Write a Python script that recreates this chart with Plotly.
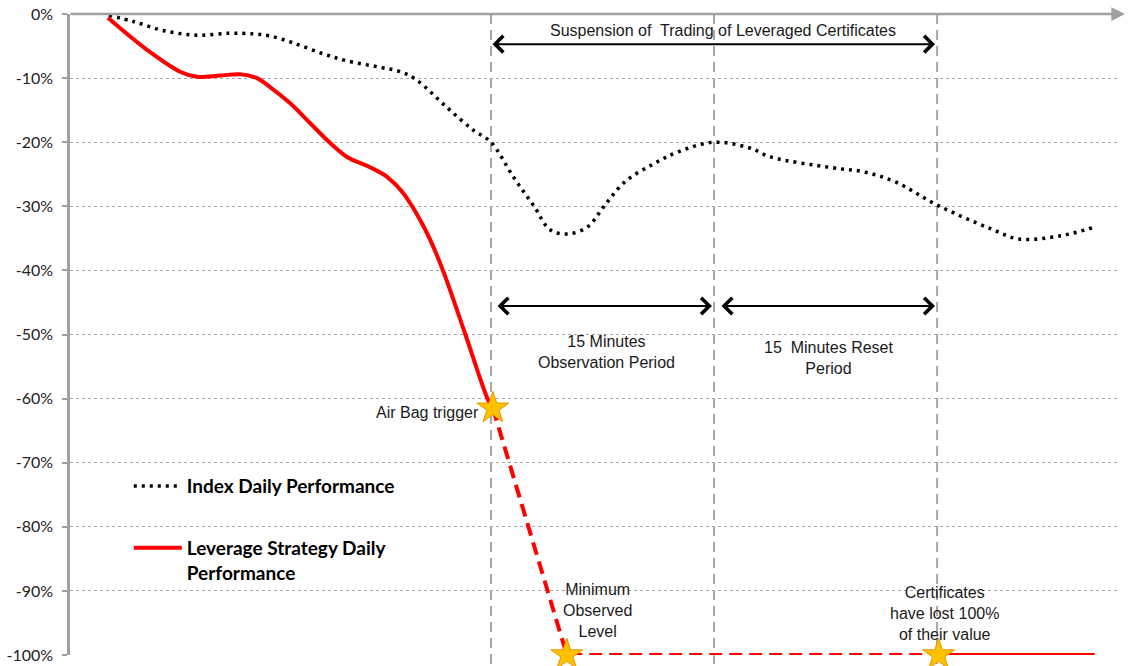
import plotly.graph_objects as go

# ---- data (time in minutes, performance in %) ----
index_t = [4.3, 6.0, 8.0, 10.2, 12.4, 14.0, 15.1, 16.7, 18.7, 20.3, 22.5, 23.9, 25.0, 27.0, 28.8,
           30.0, 31.5, 32.9, 34.0, 35.2, 36.5, 37.6, 39.0, 41.0, 42.6, 45.0, 47.4, 48.8, 53.0,
           55.0, 57.2, 60.0, 63.6, 65.5, 68.3, 70.5]
index_perf = [-0.2, -1.2, -2.6, -3.3, -3.0, -3.1, -3.4, -4.5, -6.2, -7.3, -8.3, -9.0, -10.3, -14.5, -18.1,
              -20.0, -25.4, -30.0, -33.7, -34.3, -33.2, -30.0, -26.2, -23.3, -21.5, -20.0, -20.9, -22.3, -24.0,
              -24.6, -26.2, -29.8, -33.5, -35.1, -34.6, -33.3]

lev_t = [4.24, 6.87, 9.09, 10.23, 11.78, 13.12, 14.26, 15.14, 16.48, 17.83, 19.17, 20.32, 21.86,
         23.01, 24.08, 25.70, 26.77, 28.25, 29.80, 30.13]
lev_perf = [-0.6, -5.6, -9.0, -9.8, -9.6, -9.4, -10.0, -11.4, -13.9, -17.0, -20.1, -22.3, -23.9,
            -25.4, -27.9, -34.2, -40.0, -49.8, -60.2, -61.5]

susp_t = [30.13, 35.1, 60.1]
susp_perf = [-61.5, -100.0, -100.0]

post_t = [60.1, 70.6]
post_perf = [-100.0, -100.0]

event_t = [30.13, 35.1, 60.1]
event_perf = [-61.5, -100.0, -100.0]

period_bounds = [30, 45, 60]

y_ticks = [0, -10, -20, -30, -40, -50, -60, -70, -80, -90, -100]
y_tick_labels = ["0%", "-10%", "-20%", "-30%", "-40%", "-50%", "-60%", "-70%", "-80%", "-90%", "-100%"]

X_RANGE = [1.69, 72.3]

fig = go.Figure()

fig.add_trace(go.Scatter(
    x=index_t, y=index_perf, mode="lines", name="<b>Index Daily Performance</b>",
    line=dict(color="black", width=3.5, dash="3px,5px", shape="spline", smoothing=1.0),
    legendgroup="a", cliponaxis=False,
))
fig.add_trace(go.Scatter(
    x=lev_t, y=lev_perf, mode="lines", name="<b>Leverage Strategy Daily<br>Performance</b>",
    line=dict(color="#FF0000", width=4, shape="spline", smoothing=1.0),
    legendgroup="b", cliponaxis=False,
))
fig.add_trace(go.Scatter(
    x=susp_t, y=susp_perf, mode="lines", showlegend=False,
    line=dict(color="#FF0000", width=4, dash="13px,7px"), cliponaxis=False,
))
fig.add_trace(go.Scatter(
    x=post_t, y=post_perf, mode="lines", showlegend=False,
    line=dict(color="#FF0000", width=4), cliponaxis=False,
))
fig.add_trace(go.Scatter(
    x=event_t, y=event_perf, mode="markers", showlegend=False,
    marker=dict(symbol="star", size=24, color="#FFC000", line=dict(color="#E39B00", width=1)),
    cliponaxis=False,
))

# vertical dashed period boundaries
for t in period_bounds:
    fig.add_shape(type="line", xref="x", yref="paper", x0=t, x1=t, y0=1, y1=-0.02,
                  line=dict(color="#A6A6A6", width=2, dash="10px,6px"), layer="below")

txt_font = dict(family="Liberation Sans, Arial, sans-serif", size=16, color="#1a1a1a")

annotations = []
# top axis line with arrow
annotations.append(dict(xref="paper", yref="paper", x=1.0048, y=1, ax=-1056, ay=0, axref="pixel", ayref="pixel",
                        showarrow=True, arrowhead=2, arrowsize=1.1, arrowwidth=2.5, arrowcolor="#A0A0A0", text=""))
# double arrows
def dbl_arrow(x0, x1, y):
    return dict(xref="x", yref="y", axref="x", ayref="y", x=x1, y=y, ax=x0, ay=y, text="",
                showarrow=True, arrowhead=4, startarrowhead=4, arrowside="end+start",
                arrowsize=1.6, startarrowsize=1.6, arrowwidth=2, arrowcolor="black")

annotations.append(dbl_arrow(30.0, 59.86, -4.7))
annotations.append(dbl_arrow(30.34, 44.86, -45.55))
annotations.append(dbl_arrow(45.4, 59.86, -45.55))

def label(x, y, text, xanchor="center"):
    return dict(xref="x", yref="y", x=x, y=y, text=text, showarrow=False, font=txt_font,
                xanchor=xanchor, yanchor="middle", align="center")

annotations.append(label(45.6, -2.65, "Suspension of\u00a0 Trading of Leveraged Certificates"))
annotations.append(label(37.8, -52.8, "15 Minutes<br>Observation Period"))
annotations.append(label(52.7, -53.6, "15\u00a0 Minutes Reset<br>Period"))
annotations.append(label(29.3, -62.2, "Air Bag trigger", xanchor="right"))
annotations.append(label(37.13, -93.1, "Minimum<br>Observed<br>Level"))
annotations.append(label(60.5, -93.6, "Certificates<br>have lost 100%<br>of their value"))

fig.update_layout(
    width=1130, height=666,
    margin=dict(l=70, r=10, t=14, b=11, autoexpand=False),
    paper_bgcolor="white", plot_bgcolor="white",
    showlegend=True,
    legend=dict(x=0.056, y=0.293, xanchor="left", yanchor="top", bgcolor="rgba(0,0,0,0)",
                font=dict(family="Lato, Calibri, sans-serif", size=19, color="black"),
                itemwidth=48, tracegroupgap=34, valign="top", traceorder="grouped"),
    annotations=annotations,
    xaxis=dict(range=X_RANGE, showgrid=False, zeroline=False, showticklabels=False, ticks="",
               showline=False, automargin=False),
    yaxis=dict(range=[-100, 0], tickvals=y_ticks, ticktext=y_tick_labels, showgrid=True,
               gridcolor="#A6A6A6", griddash="dot", gridwidth=1, zeroline=False, automargin=False,
               showline=True, linecolor="#A0A0A0", linewidth=2.5, ticks="outside", ticklen=5,
               tickcolor="#A0A0A0", tickwidth=2, ticklabelstandoff=6, ticklabeloverflow="allow",
               tickfont=dict(family="Lato, Calibri, sans-serif", size=16, color="#222222")),
)

fig.write_html("out.html", config={"displayModeBar": False},
               post_script="document.body.style.margin='0';")
